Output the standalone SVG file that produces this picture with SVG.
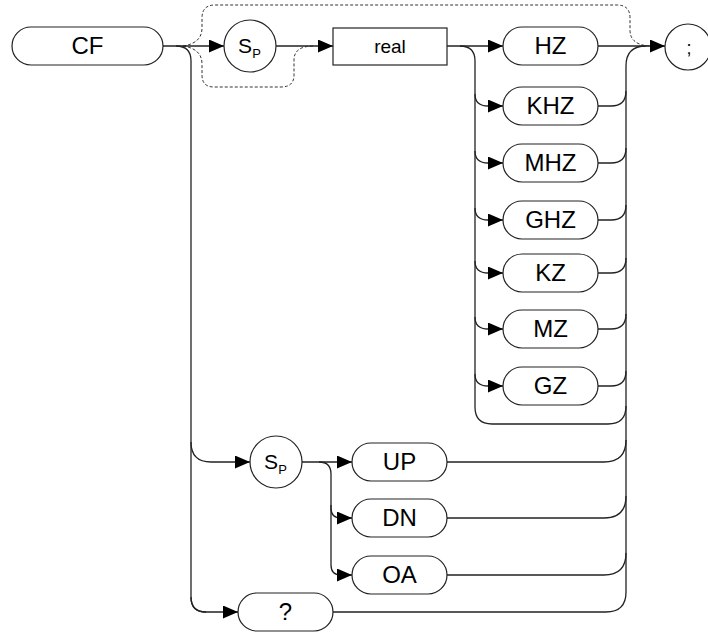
<svg xmlns="http://www.w3.org/2000/svg" width="708" height="632" viewBox="0 0 708 632">
<style>
.n{fill:#fff;stroke:#222;stroke-width:1.2}
.t{font-family:"Liberation Sans",Arial,sans-serif;font-size:24px;fill:#000;text-anchor:middle}
.s{font-family:"Liberation Sans",Arial,sans-serif;fill:#000;text-anchor:middle}
.c{fill:none;stroke:#222;stroke-width:1.3}
.a{marker-end:url(#ah)}
.d{fill:none;stroke:#333;stroke-width:1;stroke-dasharray:3 2}
</style>
<defs>
<marker id="ah" markerUnits="userSpaceOnUse" viewBox="0 0 15 13" refX="15" refY="6.5" markerWidth="15" markerHeight="13" orient="auto">
<path d="M0,0 L15,6.5 L0,13 z" fill="#000"/>
</marker>
</defs>
<rect width="708" height="632" fill="#fff"/>
<g id="connectors">
<path class="d" d="M183,46 C196,44 202,38 202,28 V18 Q202,5 215,5 H617 Q630,5 630,18 V30 Q630,45 650,46"/>
<path class="d" d="M183,46 C196,48 202,54 202,64 V75 Q202,87 214,87 H281 Q294,87 294,75 V60 Q294,46 314,46"/>
<path class="c a" d="M163,46 H224"/>
<path class="c" d="M176,46 Q191,46 191,61 V597 Q191,612 206,612"/>
<path class="c a" d="M191,442 Q191,462 211,462 H250"/>
<path class="c a" d="M191,597 Q191,612 206,612 H238"/>
<path class="c a" d="M276,46 H333"/>
<path class="c a" d="M447,46 H503"/>
<path class="c" d="M460,46 Q475,46 475,61 V407 Q475,424 492,424 H608 Q626,424 626,406"/>
<path class="c a" d="M475,94 Q475,106 488,106 H503"/>
<path class="c a" d="M475,151 Q475,163 488,163 H503"/>
<path class="c a" d="M475,208 Q475,220 488,220 H503"/>
<path class="c a" d="M475,261 Q475,273 488,273 H503"/>
<path class="c a" d="M475,317 Q475,329 488,329 H503"/>
<path class="c a" d="M475,374 Q475,386 488,386 H503"/>
<path class="c a" d="M598,46 H665"/>
<path class="c" d="M646,46 Q626,46 626,66 V592 Q626,612 606,612 H333"/>
<path class="c" d="M598,106 H611 Q626,106 626,91"/>
<path class="c" d="M598,163 H611 Q626,163 626,148"/>
<path class="c" d="M598,220 H611 Q626,220 626,205"/>
<path class="c" d="M598,273 H611 Q626,273 626,258"/>
<path class="c" d="M598,329 H611 Q626,329 626,314"/>
<path class="c" d="M598,386 H611 Q626,386 626,371"/>
<path class="c a" d="M302,462 H352"/>
<path class="c a" d="M319,462 Q331,462 331,474 V508 Q331,518 341,518 H352"/>
<path class="c a" d="M331,505 V565 Q331,575 341,575 H352"/>
<path class="c" d="M447,462 H604 Q626,462 626,440"/>
<path class="c" d="M447,518 H604 Q626,518 626,496"/>
<path class="c" d="M447,575 H604 Q626,575 626,553"/>
</g>
<g id="cf"><rect class="n" x="12" y="27" width="151" height="38" rx="19"/><text class="t" x="87.5" y="54">CF</text></g>
<g id="sp1"><circle class="n" cx="250" cy="46" r="26"/><text class="s" x="245" y="53" font-size="21">S</text><text class="s" x="256.5" y="58" font-size="13">P</text></g>
<g id="real"><rect class="n" x="333" y="28" width="114" height="37"/><text class="s" x="390" y="53" font-size="19">real</text></g>
<g id="hz"><rect class="n" x="503" y="27" width="95" height="38" rx="19"/><text class="t" x="550.5" y="54">HZ</text></g>
<g id="khz"><rect class="n" x="503" y="87" width="95" height="38" rx="19"/><text class="t" x="550.5" y="114">KHZ</text></g>
<g id="mhz"><rect class="n" x="503" y="144" width="95" height="38" rx="19"/><text class="t" x="550.5" y="171">MHZ</text></g>
<g id="ghz"><rect class="n" x="503" y="201" width="95" height="38" rx="19"/><text class="t" x="550.5" y="228">GHZ</text></g>
<g id="kz"><rect class="n" x="503" y="254" width="95" height="38" rx="19"/><text class="t" x="550.5" y="281">KZ</text></g>
<g id="mz"><rect class="n" x="503" y="310" width="95" height="38" rx="19"/><text class="t" x="550.5" y="337">MZ</text></g>
<g id="gz"><rect class="n" x="503" y="367" width="95" height="38" rx="19"/><text class="t" x="550.5" y="394">GZ</text></g>
<g id="semi"><circle class="n" cx="688" cy="47" r="23"/><text class="s" x="689" y="54" font-size="18">;</text></g>
<g id="sp2"><circle class="n" cx="276" cy="462" r="26"/><text class="s" x="271" y="469" font-size="21">S</text><text class="s" x="282.5" y="474" font-size="13">P</text></g>
<g id="up"><rect class="n" x="352" y="443" width="95" height="38" rx="19"/><text class="t" x="399.5" y="470">UP</text></g>
<g id="dn"><rect class="n" x="352" y="499" width="95" height="38" rx="19"/><text class="t" x="399.5" y="526">DN</text></g>
<g id="oa"><rect class="n" x="352" y="556" width="95" height="38" rx="19"/><text class="t" x="399.5" y="583">OA</text></g>
<g id="q"><rect class="n" x="238" y="593" width="95" height="38" rx="19"/><text class="t" x="285.5" y="620">?</text></g>
</svg>
